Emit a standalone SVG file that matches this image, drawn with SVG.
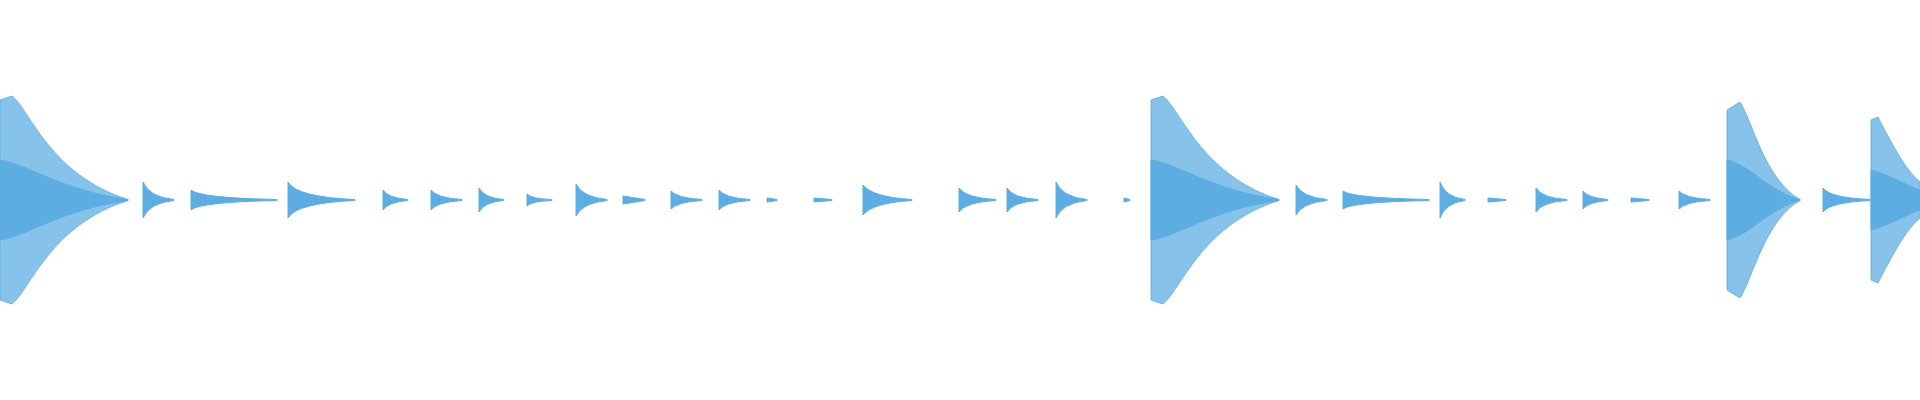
<svg xmlns="http://www.w3.org/2000/svg" width="1920" height="400" viewBox="0 0 1920 400">
<style>.w{fill:#5DADE2;stroke:#5DADE2;stroke-width:0.8;fill-opacity:0.75}.s{fill:#5DADE2;stroke:#5DADE2;stroke-width:1}</style>
<rect width="1920" height="400" fill="#fff"/>
<g id="big">
<path class="w" d="M0,100 L12,96 C30,110 50,175 128,199.5 L128,200.5 C50,225 30,290 12,304 L0,300 Z"/>
<path class="s" d="M0,160 C30,165 60,190 128,199.5 L128,200.5 C60,210 30,235 0,240 Z"/>
<path class="w" d="M1151,100 L1163,96 C1181,110 1201,175 1279,199.5 L1279,200.5 C1201,225 1181,290 1163,304 L1151,300 Z"/>
<path class="s" d="M1151,160 C1181,165 1211,190 1279,199.5 L1279,200.5 C1211,210 1181,235 1151,240 Z"/>
<path class="w" d="M1727,110 L1740,102 C1752,120 1765,180 1800,199.5 L1800,200.5 C1765,220 1752,280 1740,298 L1727,290 Z"/>
<path class="s" d="M1727,160 C1750,165 1770,192 1800,199.5 L1800,200.5 C1770,208 1750,235 1727,240 Z"/>
<path class="w" d="M1871,120 L1878,117 C1890,140 1905,170 1920,182 L1920,218 C1905,230 1890,260 1878,283 L1871,280 Z"/>
<path class="s" d="M1871,170 C1890,175 1905,185 1920,190 L1920,210 C1905,215 1890,225 1871,230 Z"/>
</g>
<g id="small">
<path class="s" d="M143,182 Q149,197 174,199.5 L174,200.5 Q149,203 143,218 Z"/>
<path class="s" d="M191,190 Q200,198 277,199.5 L277,200.5 Q200,202 191,210 Z"/>
<path class="s" d="M288,182 Q296,197 355,199.5 L355,200.5 Q296,203 288,218 Z"/>
<path class="s" d="M383,190 Q388,198 408,199.5 L408,200.5 Q388,202 383,210 Z"/>
<path class="s" d="M431,190 Q437,198 462,199.5 L462,200.5 Q437,202 431,210 Z"/>
<path class="s" d="M479,188 Q484,198 504,199.5 L504,200.5 Q484,202 479,212 Z"/>
<path class="s" d="M527,194 Q532,199 552,199.5 L552,200.5 Q532,201 527,206 Z"/>
<path class="s" d="M576,184 Q582,197 607,199.5 L607,200.5 Q582,203 576,216 Z"/>
<path class="s" d="M623,196 L645,199.5 L645,200.5 L623,204 Z"/>
<path class="s" d="M671,191 Q677,198 702,199.5 L702,200.5 Q677,202 671,209 Z"/>
<path class="s" d="M719,190 Q725,198 750,199.5 L750,200.5 Q725,202 719,210 Z"/>
<path class="s" d="M767,198 L777,199.5 L777,200.5 L767,202 Z"/>
<path class="s" d="M814,198 L832,199.5 L832,200.5 L814,202 Z"/>
<path class="s" d="M863,185 Q872,197 912,199.5 L912,200.5 Q872,203 863,215 Z"/>
<path class="s" d="M959,188 Q966,198 996,199.5 L996,200.5 Q966,202 959,212 Z"/>
<path class="s" d="M1007,188 Q1013,198 1038,199.5 L1038,200.5 Q1013,202 1007,212 Z"/>
<path class="s" d="M1056,182 Q1062,197 1087,199.5 L1087,200.5 Q1062,203 1056,218 Z"/>
<path class="s" d="M1124,198 L1130,199.5 L1130,200.5 L1124,202 Z"/>
<path class="s" d="M1296,185 Q1302,197 1327,199.5 L1327,200.5 Q1302,203 1296,215 Z"/>
<path class="s" d="M1343,191 Q1352,198 1429,199.5 L1429,200.5 Q1352,202 1343,209 Z"/>
<path class="s" d="M1440,182 Q1445,197 1465,199.5 L1465,200.5 Q1445,203 1440,218 Z"/>
<path class="s" d="M1488,198 L1506,199.5 L1506,200.5 L1488,202 Z"/>
<path class="s" d="M1536,188 Q1542,198 1567,199.5 L1567,200.5 Q1542,202 1536,212 Z"/>
<path class="s" d="M1583,191 Q1588,198 1608,199.5 L1608,200.5 Q1588,202 1583,209 Z"/>
<path class="s" d="M1631,198 L1649,199.5 L1649,200.5 L1631,202 Z"/>
<path class="s" d="M1679,191 Q1685,198 1710,199.5 L1710,200.5 Q1685,202 1679,209 Z"/>
<path class="s" d="M1823,188 Q1830,198 1872,199.5 L1872,200.5 Q1830,202 1823,212 Z"/>
</g>
</svg>
